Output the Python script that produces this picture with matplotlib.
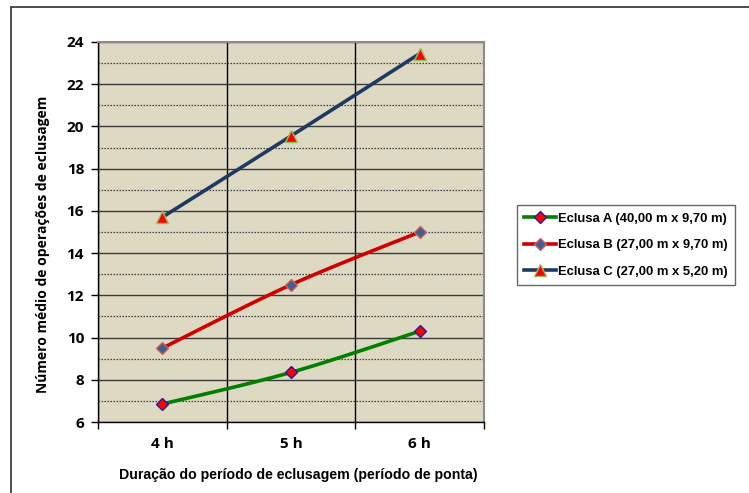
import numpy as np
import matplotlib
matplotlib.use("Agg")
import matplotlib.pyplot as plt
from matplotlib.patches import Rectangle
from matplotlib.ticker import FixedLocator, MultipleLocator

# Data
categories = ["4 h", "5 h", "6 h"]
eclusa_a = [6.85, 8.35, 10.3]
eclusa_b = [9.5, 12.5, 15.0]
eclusa_c = [15.7, 19.55, 23.45]
series_labels = [
    "Eclusa A (40,00 m x 9,70 m)",
    "Eclusa B (27,00 m x 9,70 m)",
    "Eclusa C (27,00 m x 5,20 m)",
]


def smooth_path(xs, ys, steps=40):
    """Cubic Bezier smoothing with Catmull-Rom style tangents."""
    xs = np.asarray(xs, float)
    ys = np.asarray(ys, float)
    n = len(xs)
    out_x, out_y = [], []
    t = np.linspace(0, 1, steps)
    for i in range(n - 1):
        p0 = np.array([xs[max(i - 1, 0)], ys[max(i - 1, 0)]])
        p1 = np.array([xs[i], ys[i]])
        p2 = np.array([xs[i + 1], ys[i + 1]])
        p3 = np.array([xs[min(i + 2, n - 1)], ys[min(i + 2, n - 1)]])
        c1 = p1 + (p2 - p0) / 6.0
        c2 = p2 - (p3 - p1) / 6.0
        pts = ((1 - t)[:, None] ** 3 * p1 + 3 * ((1 - t) ** 2 * t)[:, None] * c1
               + 3 * ((1 - t) * t ** 2)[:, None] * c2 + (t ** 3)[:, None] * p2)
        out_x.extend(pts[:, 0])
        out_y.extend(pts[:, 1])
    return out_x, out_y


fig = plt.figure(figsize=(7.49, 4.93), dpi=100)
fig.patch.set_facecolor("white")

# outer chart frame
fig.patches.append(Rectangle((11 / 749, -0.05), 1.0, 1 - 7 / 493 + 0.05,
                             transform=fig.transFigure, fill=False,
                             edgecolor="#404040", linewidth=1.3))

ax = fig.add_axes([98 / 749, 1 - 422 / 493, (484 - 98) / 749, (422 - 42) / 493])
ax.set_facecolor("#DDD9C3")

x = np.arange(len(categories))
ax.set_xlim(-0.5, len(categories) - 0.5)
ax.set_ylim(6, 24)

# grid: solid at even values, dotted at odd values, category separators
ax.yaxis.set_major_locator(MultipleLocator(2))
ax.yaxis.set_minor_locator(MultipleLocator(1))
ax.grid(which="major", axis="y", color="#3a3a3a", linewidth=1.0, zorder=1)
ax.grid(which="minor", axis="y", color="#3a3a3a", linewidth=0.9,
        linestyle=(0, (1.2, 1.2)), zorder=1)
ax.xaxis.set_major_locator(FixedLocator(np.arange(-0.5, len(categories), 1.0)))
ax.xaxis.set_minor_locator(FixedLocator(x))
ax.grid(which="major", axis="x", color="black", linewidth=1.0, zorder=1)
ax.set_xticklabels([])
ax.set_xticklabels(categories, minor=True)
ax.tick_params(axis="x", which="major", direction="out", length=5, width=1, color="black")
ax.tick_params(axis="x", which="minor", length=0, pad=11)
ax.tick_params(axis="y", which="major", direction="out", length=5, width=1, color="black",
               pad=5)
ax.tick_params(axis="y", which="minor", length=0)

for lab in ax.get_xticklabels(minor=True) + ax.get_yticklabels():
    lab.set_fontfamily("Open Sans")
    lab.set_fontweight("bold")
    lab.set_fontsize(11)

for side in ("top", "right"):
    ax.spines[side].set_color("#8c8c8c")
    ax.spines[side].set_linewidth(1.5)
for side in ("left", "bottom"):
    ax.spines[side].set_color("black")
    ax.spines[side].set_linewidth(1.0)

styles = [
    dict(color="#008000", marker="D", mfc="#FF0000", mec="#1F1F9F", ms=6.5),
    dict(color="#D00000", marker="D", mfc="#3F5F8F", mec="#D06060", ms=6.5),
    dict(color="#1F3A60", marker="^", mfc="#FF0000", mec="#9BBB59", ms=8),
]
for ys, lab, st in zip([eclusa_a, eclusa_b, eclusa_c], series_labels, styles):
    sx, sy = smooth_path(x, ys)
    ax.plot(sx, sy, color=st["color"], linewidth=2.6, zorder=3,
            solid_capstyle="round")
    ax.plot(x, ys, linestyle="none", marker=st["marker"], markersize=st["ms"],
            markerfacecolor=st["mfc"], markeredgecolor=st["mec"],
            markeredgewidth=1.0, zorder=4)
    ax.plot([], [], color=st["color"], linewidth=2.6, marker=st["marker"],
            markersize=st["ms"], markerfacecolor=st["mfc"],
            markeredgecolor=st["mec"], markeredgewidth=1.0, label=lab)

ax.set_ylabel("Número médio de operações de eclusagem", fontfamily="Open Sans",
              fontweight="bold", fontsize=10)
ax.yaxis.set_label_coords(-48 / 386, 0.468)
ax.set_xlabel("Duração do período de eclusagem (período de ponta)",
              fontfamily="Liberation Sans", fontweight="bold", fontsize=10.2)
ax.xaxis.set_label_coords(0.518, -46 / 380)

leg = fig.legend(loc="center left", bbox_to_anchor=(517 / 749, 1 - 245 / 493),
                 frameon=True, fancybox=False, handlelength=2.4, handletextpad=0.2,
                 borderpad=0.55, labelspacing=1.1, borderaxespad=0,
                 prop=dict(family="Liberation Sans", weight="bold", size=9.4))
leg.get_frame().set_edgecolor("#404040")
leg.get_frame().set_linewidth(1.0)

fig.savefig("out.png", dpi=100, facecolor="white")
